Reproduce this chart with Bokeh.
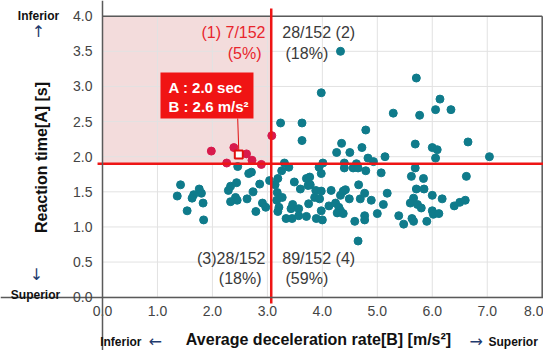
from bokeh.plotting import figure
from bokeh.models import Label, FixedTicker, NumeralTickFormatter, Range1d
from bokeh.embed import file_html
from bokeh.resources import INLINE

# ---- data ----
teal_x = [2.46, 2.66, 2.71, 1.42, 1.36, 1.76, 1.80, 1.66, 1.63, 1.83, 1.54, 1.84, 2.33, 2.29, 2.44,
          2.86, 2.74, 2.63, 2.42, 2.45, 2.33, 2.91, 2.97, 2.79, 3.04,
          3.63, 4.35, 4.26, 4.50, 4.72, 4.83, 4.93, 5.14, 3.31, 3.39, 3.26, 3.19, 3.14, 3.18, 3.27,
          3.17, 3.21, 3.19, 3.34, 3.45, 3.43, 3.46, 3.49, 3.60, 3.71, 3.77, 3.74, 3.78, 3.57, 3.57,
          3.71, 3.75, 3.88, 3.86, 3.95, 3.98, 3.98, 3.89, 4.00, 3.94, 4.01, 3.98, 4.16, 4.12, 4.24,
          4.30, 4.33, 4.27, 4.38, 4.33, 4.38, 4.42, 4.40, 4.40, 4.56, 4.62, 4.65, 4.79, 4.49, 4.66,
          4.69, 4.77, 4.89, 4.77, 4.77, 4.59, 4.65, 5.00, 5.11, 5.18, 5.07, 5.39,
          5.69, 6.00, 6.09, 6.06, 6.65, 7.04, 5.69, 5.62, 5.84, 5.71, 5.85, 6.62, 5.66, 5.60, 5.73,
          5.80, 6.00, 6.18, 6.40, 6.50, 6.60, 6.00, 6.02, 6.12, 5.63, 5.66, 5.48, 5.90,
          3.98, 5.29, 3.24, 3.63, 4.79, 4.33, 5.71, 6.14, 6.06, 6.34, 5.77]
teal_y = [1.86, 1.76, 1.78, 1.60, 1.44, 1.54, 1.48, 1.46, 1.41, 1.34, 1.23, 1.10, 1.58, 1.52, 1.63,
          1.61, 1.50, 1.40, 1.42, 1.38, 1.36, 1.34, 1.28, 1.22, 1.66,
          2.23, 2.19, 2.06, 2.06, 2.13, 1.98, 1.93, 2.00, 1.91, 1.85, 1.80, 1.69, 1.60, 1.49, 1.42,
          1.38, 1.28, 1.22, 1.12, 1.12, 1.26, 1.32, 1.64, 1.54, 1.69, 1.71, 1.59, 1.60, 1.26, 1.16,
          1.15, 1.33, 1.52, 1.42, 1.40, 1.51, 1.23, 1.12, 1.10, 1.85, 1.91, 1.76, 1.52, 1.30, 1.34,
          1.28, 1.23, 1.20, 1.19, 1.45, 1.51, 1.53, 1.84, 1.91, 1.84, 1.90, 1.84, 1.80, 1.40, 1.60,
          1.40, 1.48, 1.38, 1.16, 1.10, 1.08, 0.80, 1.19, 1.32, 1.48, 1.77, 1.16,
          2.18, 2.13, 2.10, 1.98, 2.21, 2.00, 1.84, 1.72, 1.69, 1.54, 1.54, 1.72, 1.41, 1.34, 1.32,
          1.27, 1.45, 1.40, 1.30, 1.35, 1.38, 1.23, 1.18, 1.19, 1.12, 1.08, 1.04, 1.08,
          2.91, 2.62, 2.48, 2.48, 2.38, 3.50, 3.12, 2.82, 2.67, 2.67, 2.59]

red_x = [1.98, 2.39, 2.62, 2.72, 2.26, 2.89, 3.08]
red_y = [2.08, 2.13, 2.04, 1.95, 1.91, 1.89, 2.30]

sample_x = [2.48]
sample_y = [2.03]

threshold_B = 3.07
threshold_A = 1.90

x_min, x_max = 0, 8
y_min, y_max = 0.0, 4.0
x_ticks = [0, 1, 2, 3, 4, 5, 6, 7, 8]
y_ticks = [0.0, 0.5, 1.0, 1.5, 2.0, 2.5, 3.0, 3.5, 4.0]

FONT = "Liberation Sans"
ARROW_FONT = "DejaVu Sans"
TEAL = "#0f7b8b"
CRIMSON = "#d81a4c"
RED = "#ee1515"
NAVY = "#1f3b6e"
FRAME = "#5a5a5a"

W, H = 543, 350
# the plotting frame covers the whole canvas; the data box sits inside it
box_left, box_right, box_top, box_bottom = 102, 541.7, 15.7, 296.7   # pixel edges of the data box
sx = (box_right - box_left) / (x_max - x_min)
sy = (box_bottom - box_top) / (y_max - y_min)

p = figure(width=W, height=H, output_backend="svg", toolbar_location=None,
           x_range=Range1d(x_min - box_left / sx, x_min + (W - box_left) / sx),
           y_range=Range1d(y_min - (H - box_bottom) / sy, y_min + box_bottom / sy),
           min_border=0)
p.background_fill_color = "white"
p.border_fill_color = "white"
p.outline_line_color = None
p.grid.visible = False

# shaded "inferior" quadrant
p.quad(left=[x_min], right=[threshold_B], bottom=[threshold_A], top=[y_max],
       fill_color="#f3dcdc", line_color=None)

# grid lines inside the data box
p.segment(x0=x_ticks, y0=[y_min] * len(x_ticks), x1=x_ticks, y1=[y_max] * len(x_ticks),
          line_color="#e2e2e2", line_width=1)
p.segment(x0=[x_min] * len(y_ticks), y0=y_ticks, x1=[x_max] * len(y_ticks), y1=y_ticks,
          line_color="#e2e2e2", line_width=1)

# axes pinned to the data box
for ax in (p.xaxis[0], p.yaxis[0]):
    ax.major_tick_in = 0
    ax.major_tick_out = 0
    ax.minor_tick_in = 0
    ax.minor_tick_out = 0
    ax.axis_line_color = FRAME
    ax.axis_line_width = 1.5
    ax.major_label_text_font = FONT
    ax.major_label_text_font_size = "14px"
    ax.major_label_text_color = "#444444"
p.xaxis[0].fixed_location = y_min
p.yaxis[0].fixed_location = x_min
p.xaxis[0].ticker = FixedTicker(ticks=x_ticks)
p.yaxis[0].ticker = FixedTicker(ticks=y_ticks)
p.xaxis[0].formatter = NumeralTickFormatter(format="0.0")
p.yaxis[0].formatter = NumeralTickFormatter(format="0.0")
p.xaxis[0].major_label_standoff = 9
p.yaxis[0].major_label_standoff = 10

# top and right edges of the box
p.segment(x0=[x_min], y0=[y_max], x1=[x_max], y1=[y_max], line_color=FRAME, line_width=1.5)
p.segment(x0=[x_max], y0=[y_min], x1=[x_max], y1=[y_max], line_color=FRAME, line_width=1.5)

# data points
p.scatter(teal_x, teal_y, size=8, fill_color=TEAL, line_color=TEAL)
p.scatter(red_x, red_y, size=8, fill_color=CRIMSON, line_color=CRIMSON)

# threshold lines (slightly overshooting the box, as in the original)
p.segment(x0=[threshold_B], y0=[y_min - 0.09], x1=[threshold_B], y1=[y_max + 0.11],
          line_color=RED, line_width=2.5)
p.segment(x0=[x_min - 0.09], y0=[threshold_A], x1=[x_max + 0.1], y1=[threshold_A],
          line_color=RED, line_width=2.5)

# callout box
p.quad(left=[1.055], right=[2.747], bottom=[2.544], top=[3.20], fill_color="#f01414", line_color=None)
p.segment(x0=[2.46], y0=[2.544], x1=[2.48], y1=[2.07], line_color="#e01010", line_width=1)
p.scatter(sample_x, sample_y, marker="square", size=8, fill_color="white",
          line_color="#e01010", line_width=2)

def lab(x, y, text, size="16px", color="#3a3a3a", align="left", bold=False, angle=0,
        screen=False, font=FONT):
    units = "screen" if screen else "data"
    if screen:
        y = H - y
    p.add_layout(Label(x=x, y=y, x_units=units, y_units=units, text=text, text_font=font,
                       text_font_size=size, text_color=color, text_align=align,
                       text_baseline="middle",
                       text_font_style="bold" if bold else "normal", angle=angle))

lab(1.20, 2.985, "A : 2.0 sec", size="15px", color="white", bold=True)
lab(1.20, 2.715, "B : 2.6 m/s²", size="15px", color="white", bold=True)

# quadrant counts
lab(2.966, 3.77, "(1) 7/152", color="#e8252c", align="right")
lab(2.893, 3.47, "(5%)", color="#e8252c", align="right")
lab(3.27, 3.77, "28/152 (2)")
lab(3.33, 3.47, "(18%)")
lab(2.966, 0.547, "(3)28/152", align="right")
lab(2.893, 0.26, "(18%)", align="right")
lab(3.27, 0.547, "89/152 (4)")
lab(3.33, 0.26, "(59%)")

# texts around the box (pixel positions from the top-left corner)
lab(41, 157, "Reaction time[A] [s]", size="16px", color="#111111", align="center", bold=True,
    angle=1.5708, screen=True)
lab(318, 339, "Average deceleration rate[B] [m/s²]", size="16px", color="#111111", align="center",
    bold=True, screen=True)
lab(38, 15, "Inferior", size="12px", color="#111111", align="center", bold=True, screen=True)
lab(38, 31, "↑", size="16px", color=NAVY, align="center", screen=True, font=ARROW_FONT)
lab(36, 274, "↓", size="16px", color=NAVY, align="center", screen=True, font=ARROW_FONT)
lab(35, 294, "Superior", size="12px", color="#111111", align="center", bold=True, screen=True)
lab(141, 341, "Inferior", size="12px", color="#111111", align="right", bold=True, screen=True)
lab(148, 341, "←", size="16px", color=NAVY, screen=True, font=ARROW_FONT)
lab(469, 341, "→", size="16px", color=NAVY, screen=True, font=ARROW_FONT)
lab(488, 341, "Superior", size="12px", color="#111111", bold=True, screen=True)

open("out.html", "w").write(file_html(p, INLINE))
